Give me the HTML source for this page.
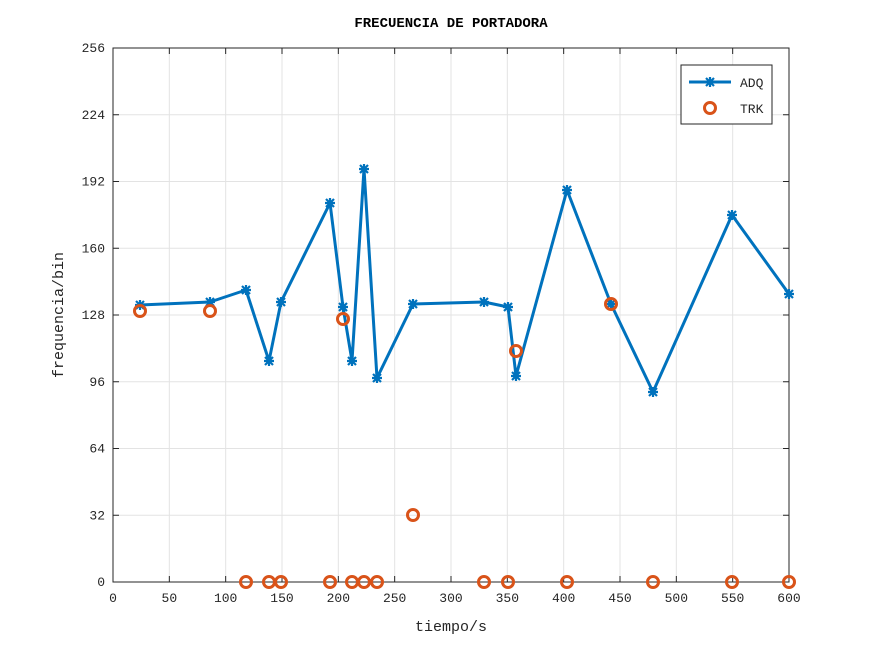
<!DOCTYPE html>
<html><head><style>body{margin:0;background:#fff}svg{display:block}text{font-family:"Liberation Mono",monospace;fill:#262626}</style></head>
<body>
<svg id="s" width="872" height="654" xmlns="http://www.w3.org/2000/svg">
<rect width="872" height="654" fill="#fff"/>
<text x="451" y="27" text-anchor="middle" font-size="14" font-weight="bold" style="fill:#000">FRECUENCIA DE PORTADORA</text>
<text x="451" y="631" text-anchor="middle" font-size="15">tiempo/s</text>
<text transform="translate(63,315) rotate(-90)" text-anchor="middle" font-size="15">frequencia/bin</text>
<g id="g"></g>
</svg>
<script>
const NS="http://www.w3.org/2000/svg",g=document.getElementById('g');
function el(t,a,txt){const e=document.createElementNS(NS,t);for(const k in a)e.setAttribute(k,a[k]);if(txt!=null)e.textContent=txt;g.appendChild(e);return e;}
const L=113,R=789,T=48,B=582;
const X=v=>L+v*(R-L)/600,Y=v=>B-v*(B-T)/256;
for(let v=0;v<=600;v+=50){const x=X(v);el('line',{x1:x,x2:x,y1:T,y2:B,stroke:'#e3e3e3'});el('line',{x1:x,x2:x,y1:B,y2:B-6,stroke:'#262626'});el('line',{x1:x,x2:x,y1:T,y2:T+6,stroke:'#262626'});el('text',{x:x,y:B+20,'text-anchor':'middle','font-size':13},v);}
for(let v=0;v<=256;v+=32){const y=Y(v);el('line',{x1:L,x2:R,y1:y,y2:y,stroke:'#e3e3e3'});el('line',{x1:L,x2:L+6,y1:y,y2:y,stroke:'#262626'});el('line',{x1:R,x2:R-6,y1:y,y2:y,stroke:'#262626'});el('text',{x:L-8,y:y+4,'text-anchor':'end','font-size':13},v);}
el('rect',{x:L,y:T,width:R-L,height:B-T,fill:'none',stroke:'#262626'});
const A=[[140,305],[210,302],[246,290],[269,361],[281,302],[330,203],[343,307],[352,361],[364,169],[377,378],[413,304],[484,302],[508,307],[516,376],[567,190],[611,304],[653,392],[732,215],[789,294]];
const K=[[140,311],[210,311],[246,582],[269,582],[281,582],[330,582],[343,319],[352,582],[364,582],[377,582],[413,515],[484,582],[508,582],[516,351],[567,582],[611,304],[653,582],[732,582],[789,582]];
function star(x,y){el('path',{d:`M${x-5} ${y}H${x+5}M${x} ${y-5}V${y+5}M${x-4} ${y-4}L${x+4} ${y+4}M${x-4} ${y+4}L${x+4} ${y-4}`,stroke:'#0072BD','stroke-width':2.2});}
el('polyline',{points:A.map(p=>p.join(',')).join(' '),fill:'none',stroke:'#0072BD','stroke-width':3,'stroke-linejoin':'round'});
A.forEach(p=>star(p[0],p[1]));
K.forEach(p=>el('circle',{cx:p[0],cy:p[1],r:5.5,fill:'none',stroke:'#D95319','stroke-width':3}));
el('rect',{x:681,y:65,width:91,height:59,fill:'#fff',stroke:'#262626'});
el('line',{x1:689,x2:731,y1:82,y2:82,stroke:'#0072BD','stroke-width':3});star(710,82);
el('text',{x:740,y:87,'font-size':13},'ADQ');
el('circle',{cx:710,cy:108,r:5.5,fill:'none',stroke:'#D95319','stroke-width':3});
el('text',{x:740,y:113,'font-size':13},'TRK');
</script>
</body></html>
